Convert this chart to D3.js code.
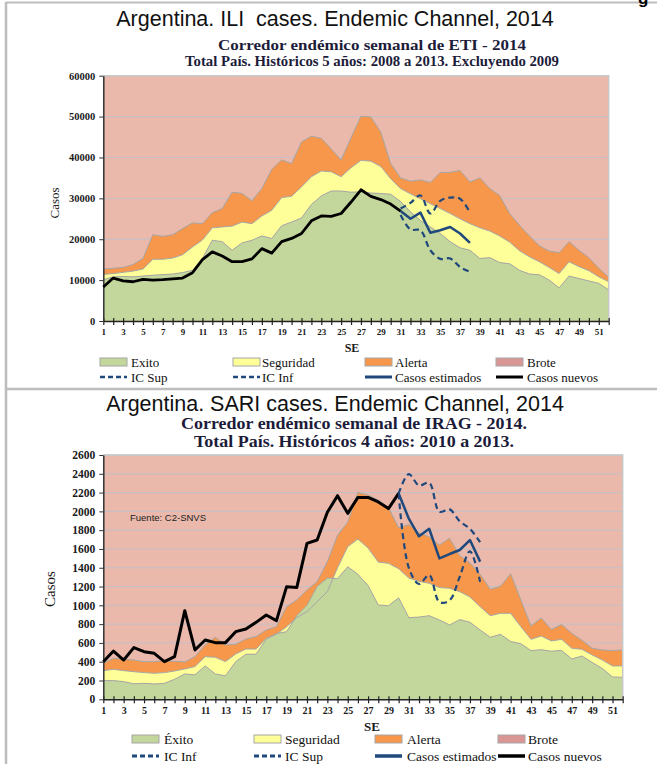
<!DOCTYPE html>
<html><head><meta charset="utf-8">
<script src="https://cdn.jsdelivr.net/npm/d3@7"></script>
<style>body{margin:0;background:#fff} svg{display:block}</style>
</head><body>
<svg id="c" width="657" height="764"></svg>
<script>
// ---------- shared ----------
const weeks = d3.range(1, 53);

// ---------- ETI (top chart) ----------
const etiTitle = "Argentina. ILI  cases. Endemic Channel, 2014";
const etiSub = ["Corredor endémico semanal de ETI - 2014", "Total País. Históricos 5 años: 2008 a 2013. Excluyendo 2009"];
const etiYTicks = [0, 10000, 20000, 30000, 40000, 50000, 60000];
const exitoETI = [10100,10800,10900,10800,11000,11200,11350,11500,11850,12400,15300,19750,19400,17300,19100,19750,20800,20200,23300,24200,25200,28500,30600,31800,31800,31500,31600,31300,31200,31000,29200,26700,24600,23000,21400,19400,17900,17300,15300,15500,14300,14000,12400,11500,11300,10000,8100,11000,10400,9800,9200,7600];
const seguridadETI = [11400,11600,11900,12200,12700,15100,15100,15400,16200,18100,19800,22800,23000,23200,24200,23800,25700,27100,30200,30500,32800,35300,36700,36500,35300,37500,39300,39100,37800,34800,32400,31100,29900,28700,27500,26300,25000,23800,22800,22000,20800,19300,17200,15700,14500,13100,11600,14500,13300,12300,10800,9600];
const alertaETI = [12700,12900,13100,13800,15300,21100,20700,21100,22600,24000,23800,26500,27500,31500,31200,29400,32400,37100,39400,38500,43800,45200,44700,42100,39400,44800,50100,49900,46200,38500,35000,34200,34500,33900,36300,36400,36800,34000,35000,32400,30700,26300,23400,20800,18400,17100,16700,19400,17300,15500,12900,10700];
const nuevosWeeksETI = d3.range(1, 32);
const nuevosETI = [8300,10500,9800,9600,10200,10000,10100,10300,10500,11800,15000,16900,15900,14500,14500,15200,17700,16600,19400,20200,21400,24500,25700,25600,26300,29100,32100,30500,29700,28600,26900];
const estWeeksETI = d3.range(31, 39);
const estimadosETI = [26900,25000,26500,21600,22200,23000,21400,19100];
const icSupETI = [27500,28900,30700,26300,29400,30200,29900,26500];
const icInfETI = [25900,22400,22200,17300,15200,15300,13200,12000];
const etiLegend = [["Exito","Seguridad","Alerta","Brote"],["IC Sup","IC Inf","Casos estimados","Casos nuevos"]];

// ---------- IRAG (bottom chart) ----------
const iragTitle = "Argentina. SARI cases. Endemic Channel, 2014";
const iragSub = ["Corredor endémico semanal de IRAG - 2014.", "Total País. Históricos 4 años: 2010 a 2013."];
const iragYTicks = d3.range(0, 2601, 200);
const exitoIRAG = [199,199,188,165,170,163,170,213,270,260,355,270,250,400,480,480,640,700,720,890,1000,1200,1290,1285,1410,1330,1210,1004,995,1080,869,875,890,844,791,848,820,738,660,691,615,592,518,528,512,520,429,461,392,328,238,234];
const seguridadIRAG = [305,319,305,294,284,277,284,301,323,348,454,447,401,482,535,535,649,691,773,869,933,1039,1145,1400,1624,1705,1610,1460,1447,1390,1290,1255,1235,1190,1181,1145,1090,986,890,915,915,773,638,674,621,638,543,532,472,418,355,355];
const alertaIRAG = [383,436,425,418,400,400,411,404,397,454,578,660,578,585,642,667,738,773,986,1057,1163,1252,1465,1745,1885,2200,2173,2120,2040,1825,1860,1772,1730,1642,1713,1528,1450,1330,1170,1203,1335,1057,780,866,742,795,702,628,543,525,518,525];
const nuevosWeeksIRAG = d3.range(1, 31);
const nuevosIRAG = [400,514,418,550,507,489,400,454,943,525,631,603,603,720,748,819,897,837,1199,1191,1660,1695,1990,2167,1979,2149,2149,2100,2030,2191];
const estWeeksIRAG = d3.range(30, 39);
const estimadosIRAG = [2191,1922,1735,1815,1500,1546,1589,1695,1465];
const icSupIRAG = [2191,2396,2275,2305,1996,2021,1895,1815,1672];
const icInfIRAG = [2191,1400,1227,1323,1035,1053,1305,1575,1252];
const iragLegend = [["Éxito","Seguridad","Alerta","Brote"],["IC Inf","IC Sup","Casos estimados","Casos nuevos"]];
const fuente = "Fuente: C2-SNVS";

// ---------- colours ----------
const C = {brote:"#EBB9AB", broteLeg:"#D99694", alerta:"#F6974B", seguridad:"#FFFF99", exito:"#C3D69B",
           edge:"#A6A6A6", grid:"#C3C0C8", blue:"#1F497D", black:"#000", txt:"#1a1a1a", sub:"#1C1C3A", frame:"#BDBDBD"};

const svg = d3.select("#c");
const SERIF = "'Liberation Serif', 'DejaVu Serif', serif";
const SANS = "'Liberation Sans', Arial, sans-serif";

// frames
svg.append("line").attr("x1",6).attr("x2",657).attr("y1",2.5).attr("y2",2.5).attr("stroke",C.frame).attr("stroke-width",2);
svg.append("line").attr("x1",6).attr("x2",6).attr("y1",2).attr("y2",764).attr("stroke",C.frame).attr("stroke-width",2.5);
svg.append("line").attr("x1",6).attr("x2",657).attr("y1",389).attr("y2",389).attr("stroke",C.frame).attr("stroke-width",2.5);
svg.append("text").attr("x",638).attr("y",4).attr("font-family",SANS).attr("font-weight","bold").attr("font-size",17).text("g");

function drawChart(o) {
  const g = svg.append("g");
  const x = d3.scaleLinear().domain([1, 52]).range(o.xr);
  const y = d3.scaleLinear().domain([0, o.yTicks[o.yTicks.length-1]]).range(o.yr);
  const yMax = o.yTicks[o.yTicks.length-1];

  // titles
  g.append("text").attr("x", o.titleX).attr("y", o.titleY).attr("text-anchor","middle")
    .attr("font-family", SANS).attr("font-size", 21.5).style("white-space","pre").attr("fill","#111").text(o.title);
  o.sub.forEach((s,i)=>{
    const t = g.append("text").attr("x", o.subX).attr("y", o.subY[i]).attr("text-anchor","middle")
      .attr("font-family", SERIF).attr("font-weight","bold").attr("font-size", o.subSize).attr("fill", C.sub).text(s);
    if (o.subLen) t.attr("textLength", o.subLen[i]).attr("lengthAdjust","spacingAndGlyphs");
  });

  // brote background as area
  g.append("path").datum(weeks).attr("fill", C.brote)
    .attr("d", d3.area().x(d=>x(d)).y0(y(0)).y1(y(yMax)));
  // grid
  g.selectAll(null).data(o.yTicks.filter(v=>v>0)).enter().append("line")
    .attr("x1", x(1)).attr("x2", x(52)).attr("y1", d=>y(d)).attr("y2", d=>y(d))
    .attr("stroke", C.grid).attr("stroke-width", 1);
  // bands
  const bands = [
    {lo2:o.seguridad, hi:o.alerta, col:C.alerta},
    {lo2:o.exito, hi:o.seguridad, col:C.seguridad},
    {lo2:null, hi:o.exito, col:C.exito}
  ];
  bands.forEach(b=>{
    g.append("path").datum(weeks).attr("fill", b.col)
      .attr("d", d3.area().x(d=>x(d)).y0((d,i)=> b.lo2 ? y(b.lo2[i]) : y(0)).y1((d,i)=>y(b.hi[i])));
  });
  [o.alerta, o.seguridad, o.exito].forEach(arr=>{
    g.append("path").datum(weeks).attr("fill","none").attr("stroke", C.edge).attr("stroke-width",1)
      .attr("d", d3.line().x(d=>x(d)).y((d,i)=>y(arr[i])));
  });
  // plot border top/right
  g.append("path").attr("fill","none").attr("stroke","#C8C8C8").attr("stroke-width",1.5)
    .attr("d", `M${x(1)},${y(yMax)}H${x(52)}V${y(0)}`);

  // axes
  const ax = g.append("g").attr("transform", `translate(0,${y(0)})`)
    .call(d3.axisBottom(x).tickValues(weeks).tickSize(4).tickSizeOuter(0).tickFormat(d => d % 2 === 1 ? d : ""));
  ax.select(".domain").attr("stroke","#222").attr("stroke-width",1.5);
  ax.selectAll(".tick line").attr("stroke","#222").attr("y1",-3).attr("y2",4).attr("stroke-width",1.2);
  ax.selectAll(".tick text").attr("font-family",SERIF).attr("font-weight","bold").attr("font-size",o.xFont)
    .attr("fill",C.txt).attr("y", o.xLabDy);
  const ay = g.append("g").attr("transform", `translate(${x(1)},0)`)
    .call(d3.axisLeft(y).tickValues(o.yTicks).tickSize(4).tickSizeOuter(0).tickFormat(d3.format("d")));
  ay.select(".domain").attr("stroke","#333").attr("stroke-width",1.5);
  ay.selectAll(".tick line").attr("stroke","#333");
  ay.selectAll(".tick text").attr("font-family",SERIF).attr("font-weight","bold").attr("font-size",o.yFont)
    .attr("fill",C.txt).attr("x", -o.yLabGap);

  g.append("text").attr("transform",`translate(${o.casosX},${o.casosY}) rotate(-90)`).attr("text-anchor","middle")
    .attr("font-family",SERIF).attr("font-size",o.casosSize).attr("fill",C.txt).text("Casos");
  g.append("text").attr("x",o.seX).attr("y",o.seY).attr("text-anchor","middle")
    .attr("font-family",SERIF).attr("font-weight","bold").attr("font-size",o.seSize).attr("fill",C.txt).text("SE");

  // lines
  const straight = (ws, vals) => d3.line().x((d,i)=>x(ws[i])).y(d=>y(d))(vals);
  const smooth = (ws, vals) => d3.line().curve(d3.curveCatmullRom.alpha(0.5)).x((d,i)=>x(ws[i])).y(d=>y(d))(vals);
  g.append("path").attr("d", smooth(o.estW, o.icSup)).attr("fill","none").attr("stroke",C.blue).attr("stroke-width",2.2).attr("stroke-dasharray","6,4");
  g.append("path").attr("d", smooth(o.estW, o.icInf)).attr("fill","none").attr("stroke",C.blue).attr("stroke-width",2.2).attr("stroke-dasharray","6,4");
  g.append("path").attr("d", straight(o.nuevosW, o.nuevos)).attr("fill","none").attr("stroke",C.black).attr("stroke-width",o.blackW).attr("stroke-linejoin","round");
  g.append("path").attr("d", straight(o.estW, o.est)).attr("fill","none").attr("stroke",C.blue).attr("stroke-width",2.5).attr("stroke-linejoin","round");

  if (o.fuente) {
    g.append("text").attr("x",130).attr("y",521).attr("font-family",SANS).attr("font-size",9.5).attr("fill","#222").text(o.fuente);
  }

  // legend
  const styles = o.legendStyles;
  o.legend.forEach((row, r)=>{
    row.forEach((lab, c)=>{
      const sx = o.legX[c], ty = o.legY[r];
      const st = styles[r][c];
      if (st.type === "rect") {
        g.append("rect").attr("x", sx).attr("y", ty-4).attr("width",27).attr("height",8)
          .attr("fill", st.fill).attr("stroke","#A6A6A6").attr("stroke-width",1);
      } else {
        g.append("line").attr("x1",sx).attr("x2",sx+27).attr("y1",ty).attr("y2",ty)
          .attr("stroke", st.stroke).attr("stroke-width", st.w).attr("stroke-dasharray", st.dash || null);
      }
      g.append("text").attr("x", o.legTX[c]).attr("y", ty+4.5).attr("font-family",SERIF)
        .attr("font-size",o.legFont).attr("fill","#111").text(lab);
    });
  });
}

drawChart({
  xr:[103.3,608.7], yr:[321,75.7], yTicks:etiYTicks,
  title:etiTitle, titleX:335, titleY:25.5, sub:etiSub, subX:372, subY:[50,66], subSize:15, subLen:[308,374],
  exito:exitoETI, seguridad:seguridadETI, alerta:alertaETI,
  nuevosW:nuevosWeeksETI, nuevos:nuevosETI, estW:estWeeksETI, est:estimadosETI, icSup:icSupETI, icInf:icInfETI,
  xFont:9, xLabDy:8, yFont:10.5, yLabGap:8, blackW:2.8,
  casosX:59, casosY:203, casosSize:13, seX:352, seY:352, seSize:12,
  legend:etiLegend, legX:[100,233,365,496], legTX:[131,262,395,527], legY:[362,377], legFont:13,
  legendStyles:[
    [{type:"rect",fill:C.exito},{type:"rect",fill:C.seguridad},{type:"rect",fill:C.alerta},{type:"rect",fill:C.broteLeg}],
    [{type:"line",stroke:C.blue,w:2.5,dash:"5,3"},{type:"line",stroke:C.blue,w:2.5,dash:"5,3"},{type:"line",stroke:C.blue,w:3},{type:"line",stroke:"#000",w:3}]
  ]
});

drawChart({
  xr:[103.3,622.7], yr:[699.3,455], yTicks:iragYTicks,
  title:iragTitle, titleX:335, titleY:410.5, sub:iragSub, subX:354, subY:[429,447], subSize:16, subLen:[346,320],
  exito:exitoIRAG, seguridad:seguridadIRAG, alerta:alertaIRAG,
  nuevosW:nuevosWeeksIRAG, nuevos:nuevosIRAG, estW:estWeeksIRAG, est:estimadosIRAG, icSup:icSupIRAG, icInf:icInfIRAG,
  xFont:10, xLabDy:8, yFont:11.5, yLabGap:8, blackW:3,
  casosX:55, casosY:589, casosSize:15, seX:372, seY:731, seSize:13,
  fuente:fuente,
  legend:iragLegend, legX:[132,254,375,498], legTX:[164,285,407,528], legY:[739,756], legFont:13.5,
  legendStyles:[
    [{type:"rect",fill:C.exito},{type:"rect",fill:C.seguridad},{type:"rect",fill:C.alerta},{type:"rect",fill:C.broteLeg}],
    [{type:"line",stroke:C.blue,w:3,dash:"5,3"},{type:"line",stroke:C.blue,w:3,dash:"5,3"},{type:"line",stroke:C.blue,w:3.5},{type:"line",stroke:"#000",w:3.5}]
  ]
});
</script>
</body></html>
